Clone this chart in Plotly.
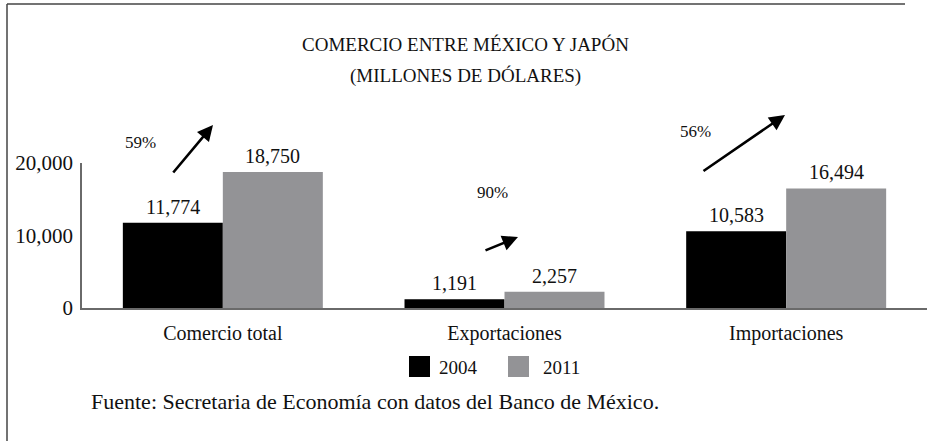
import plotly.graph_objects as go

categories = ["Comercio total", "Exportaciones", "Importaciones"]
years = ["2004", "2011"]
values_2004 = [11774, 1191, 10583]
values_2011 = [18750, 2257, 16494]
growth_labels = ["59%", "90%", "56%"]
y_ticks = [0, 10000, 20000]

title_lines = ["COMERCIO ENTRE MÉXICO Y JAPÓN", "(MILLONES DE DÓLARES)"]
source_text = "Fuente: Secretaria de Economía con datos del Banco de México."

W, H = 928, 441
L, R, T, B = 82, 1, 163, 133
PW = W - L - R
PH = H - T - B
FONT = "Liberation Serif"
GRAY = "#939396"
TXT = "#111"


def px_x(px):
    return (px - L) / PW


def px_y(py):
    return (H - B - py) / PH


def cat_x(px):
    return (px - L) / (PW / 3) - 0.5


fig = go.Figure()
fig.add_trace(go.Bar(x=categories, y=values_2004, name=years[0],
                     marker=dict(color="#000000", line=dict(width=0)), cliponaxis=False,
                     hoverinfo="skip"))
fig.add_trace(go.Bar(x=categories, y=values_2011, name=years[1],
                     marker=dict(color=GRAY, line=dict(width=0)), cliponaxis=False,
                     hoverinfo="skip"))

annotations = []
off = 0.1775
for i, (a, b) in enumerate(zip(values_2004, values_2011)):
    for xv, v in ((i - off, a), (i + off, b)):
        annotations.append(dict(x=xv, y=v, xref="x", yref="y", text=f"{v:,}",
                                showarrow=False, xanchor="center", yanchor="middle", yshift=16,
                                font=dict(family=FONT, size=20, color=TXT)))

pct_pos = [(140, 142), (492, 192), (695, 131)]
for lab, (px, py) in zip(growth_labels, pct_pos):
    annotations.append(dict(x=cat_x(px), y=px_y(py), xref="x", yref="paper", text=lab,
                            showarrow=False, xanchor="center", yanchor="middle",
                            font=dict(family=FONT, size=17, color=TXT)))

arrows = [((213, 125), (172, 174)), ((518, 237), (484, 251)), ((785, 115), (702, 172))]
for (hx, hy), (tx, ty) in arrows:
    annotations.append(dict(x=cat_x(hx), y=px_y(hy), xref="x", yref="paper", text="",
                            showarrow=True, arrowhead=2, arrowsize=1.2, arrowwidth=2.6,
                            arrowcolor="#000", ax=tx - hx, ay=ty - hy,
                            axref="pixel", ayref="pixel", standoff=0, startstandoff=0))

for line, py in zip(title_lines, (45, 76)):
    annotations.append(dict(x=px_x(465), y=px_y(py), xref="paper", yref="paper", text=line,
                            showarrow=False, xanchor="center", yanchor="middle",
                            font=dict(family=FONT, size=19, color=TXT)))

annotations.append(dict(x=px_x(89), y=px_y(401), xref="paper", yref="paper", text=source_text,
                        showarrow=False, xanchor="left", yanchor="middle",
                        font=dict(family=FONT, size=22, color=TXT)))

shapes = []
leg = [("#000000", 409, 437), (GRAY, 508, 541)]
for (col, sx, tx), yr in zip(leg, years):
    shapes.append(dict(type="rect", xref="paper", yref="paper",
                       x0=px_x(sx), x1=px_x(sx + 21), y0=px_y(377), y1=px_y(356),
                       fillcolor=col, line=dict(width=0)))
    annotations.append(dict(x=px_x(tx), y=px_y(367), xref="paper", yref="paper", text=yr,
                            showarrow=False, xanchor="left", yanchor="middle",
                            font=dict(family=FONT, size=19, color=TXT)))

# outer frame: left and top edges
shapes.append(dict(type="line", xref="paper", yref="paper", x0=px_x(7), x1=px_x(7),
                   y0=px_y(4), y1=px_y(H), line=dict(color="#444", width=1.5)))
shapes.append(dict(type="line", xref="paper", yref="paper", x0=px_x(7), x1=px_x(W - 23),
                   y0=px_y(4), y1=px_y(4), line=dict(color="#444", width=1.5)))

fig.update_layout(
    width=W, height=H,
    margin=dict(l=L, r=R, t=T, b=B),
    paper_bgcolor="white", plot_bgcolor="rgba(0,0,0,0)",
    barmode="group", bargap=0.29, bargroupgap=0,
    showlegend=False, hovermode=False,
    font=dict(family=FONT, color=TXT),
    annotations=annotations, shapes=shapes,
    xaxis=dict(showline=True, linecolor="#6a6a6a", linewidth=1.5, showgrid=False,
               ticks="", tickfont=dict(family=FONT, size=20, color=TXT),
               ticklabelstandoff=6),
    yaxis=dict(range=[0, 20000], showline=True, linecolor="#6a6a6a", linewidth=1.5,
               showgrid=False, zeroline=False, ticks="", tickvals=y_ticks,
               tickformat=",", tickfont=dict(family=FONT, size=21, color=TXT),
               ticklabelstandoff=3),
)

fig.write_html("out.html", config={"displayModeBar": False},
               post_script=("document.documentElement.style.overflow='hidden';"
                            "document.body.style.margin='0';document.body.style.overflow='hidden';"))
